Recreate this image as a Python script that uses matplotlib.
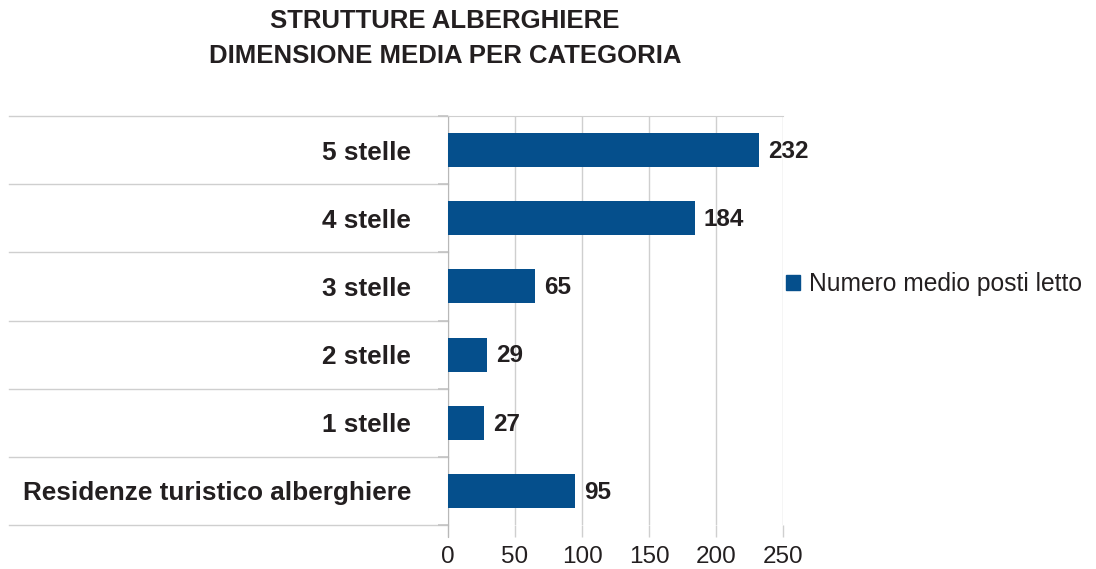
import matplotlib
matplotlib.use("Agg")
import matplotlib.pyplot as plt
from matplotlib.patches import Patch

categories = ["Residenze turistico alberghiere", "1 stelle", "2 stelle", "3 stelle", "4 stelle", "5 stelle"]
values = [95, 27, 29, 65, 184, 232]
xticks = [0, 50, 100, 150, 200, 250]
series_name = "Numero medio posti letto"
title_lines = ["STRUTTURE ALBERGHIERE", "DIMENSIONE MEDIA PER CATEGORIA"]

plt.rcParams['font.family'] = ['Liberation Sans', 'DejaVu Sans']
BAR = "#054F8C"
TXT = "#231F20"
GRID = "#CFCFCF"
AXC = "#B8B8B8"

fig = plt.figure(figsize=(10.96, 5.69), dpi=100)
ax = fig.add_axes([448/1096, 44/569, 335/1096, 409/569])

ypos = list(range(len(categories)))
ax.barh(ypos, values, height=0.5, color=BAR, zorder=3)
ax.set_xlim(0, 250)
ax.set_ylim(-0.5, len(categories) - 0.5)

ax.set_xticks(xticks)
ax.set_xticklabels([str(t) for t in xticks], fontsize=17.5, color=TXT)
ax.tick_params(axis='x', length=8.6, width=1, color=GRID, pad=6.3)
ax.xaxis.grid(True, color=GRID, linewidth=1, zorder=0)

ax.set_yticks(ypos)
ax.set_yticklabels(categories, fontsize=18.85, fontweight='bold', color=TXT)
ax.tick_params(axis='y', which='major', length=0, pad=26.6)
bounds = [i - 0.5 for i in range(len(categories) + 1)]
ax.set_yticks(bounds, minor=True)
ax.tick_params(axis='y', which='minor', length=7.2, width=1.2, color="#C4C4C4")

for b in bounds:
    ax.plot([-1.31, 0], [b, b], transform=ax.get_yaxis_transform(),
            color=GRID, linewidth=1, clip_on=False, zorder=1)

for s in ['right', 'bottom']:
    ax.spines[s].set_visible(False)
ax.spines['top'].set_color(GRID)
ax.spines['left'].set_color(AXC)
ax.spines['left'].set_bounds(-0.5 - 12/68.2, len(categories) - 0.5)

for y, v in zip(ypos, values):
    ax.annotate(str(v), xy=(v, y), xytext=(6.5, -1), textcoords='offset points',
                ha='left', va='center', fontsize=17.5, fontweight='bold', color=TXT)

fig.text(445/1096, 1 - 21/569, title_lines[0], ha='center', va='center',
         fontsize=18.5, fontweight='bold', color=TXT)
fig.text(445/1096, 1 - 56/569, title_lines[1], ha='center', va='center',
         fontsize=18.5, fontweight='bold', color=TXT)

fig.legend(handles=[Patch(facecolor=BAR, edgecolor=BAR, label=series_name)],
           loc='center left', bbox_to_anchor=(786/1096, 1 - 284/569),
           frameon=False, fontsize=17.7, handlelength=0.58, handleheight=0.58,
           handletextpad=0.37, borderpad=0, borderaxespad=0, labelcolor=TXT)

fig.savefig("out.png", dpi=100)
